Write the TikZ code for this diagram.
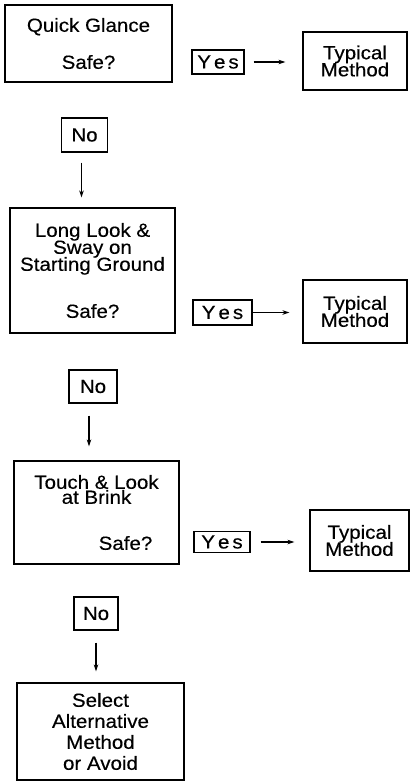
\documentclass[tikz,border=0pt]{standalone}
\usepackage{fontspec}
\setmainfont{Liberation Sans}[FakeStretch=1.08,FakeBold=0.4]
\usetikzlibrary{arrows.meta}
\newcommand\myboxfont{\fontsize{19}{17}\selectfont\lineskiplimit -30pt\relax}
\begin{document}
\begin{tikzpicture}[x=1pt,y=-1pt,
  box/.style={draw, line width=1.2pt, rectangle, inner sep=0pt, align=center, font=\myboxfont},
  arr/.style={line width=1.2pt, -{Stealth[length=7pt,width=4.5pt]}}]
\useasboundingbox (0,0) rectangle (410,781);
% decision boxes
\node[box, minimum width=167pt, minimum height=77pt] (B1) at (88.5,43.5) {Quick Glance\\[20pt]Safe?};
\node[box, minimum width=165pt, minimum height=125pt] (B2) at (92.5,270.5) {Long Look \&\\Sway on\\Starting Ground\\[30pt]Safe?};
\node[box, minimum width=165pt, minimum height=103pt] (B3) at (96.5,512.5) {Touch \& Look\\[-2pt]at Brink\\[29pt]\hspace*{58pt}Safe?};
\node[box, minimum width=167pt, minimum height=97pt] (B4) at (100.5,731.5) {Select\\[4pt]Alternative\\[4pt]Method\hspace*{20pt}\\[4pt]or Avoid};
% yes labels
\node[box, minimum width=52pt, minimum height=24pt] (Y1) at (218,62) {Y\kern3pt e\kern3pt s};
\node[box, minimum width=59pt, minimum height=25pt] (Y2) at (222.5,312.5) {Y\kern3pt e\kern3pt s};
\node[box, minimum width=56pt, minimum height=21pt] (Y3) at (222,542) {Y\kern3pt e\kern3pt s};
% typical method boxes
\node[box, minimum width=104pt, minimum height=58pt] (T1) at (355,61) {Typical\\Method};
\node[box, minimum width=104pt, minimum height=63pt] (T2) at (355,311.5) {Typical\\Method};
\node[box, minimum width=99pt, minimum height=61pt] (T3) at (359.5,540.5) {Typical\\Method};
% no labels
\node[box, minimum width=46pt, minimum height=34pt] (N1) at (84.5,135) {No};
\node[box, minimum width=48pt, minimum height=33pt] (N2) at (93,386.5) {No};
\node[box, minimum width=44pt, minimum height=33pt] (N3) at (96,613.5) {No};
% horizontal arrows
\draw[arr, shorten <=9pt, shorten >=17pt] (Y1.east) -- (Y1.east -| T1.west);
\draw[arr, shorten >=13pt] (Y2.east) -- (Y2.east -| T2.west);
\draw[arr, shorten <=10pt, shorten >=15pt] (Y3.east) -- (Y3.east -| T3.west);
% vertical arrows
\draw[arr, shorten <=10pt, shorten >=10pt] ([xshift=-3pt]N1.south) -- ([xshift=-3pt]N1.south |- B2.north);
\draw[arr, shorten <=12pt, shorten >=14pt] ([xshift=-4pt]N2.south) -- ([xshift=-4pt]N2.south |- B3.north);
\draw[arr, shorten <=12pt, shorten >=11pt] (N3.south) -- (N3.south |- B4.north);
\end{tikzpicture}
\end{document}
